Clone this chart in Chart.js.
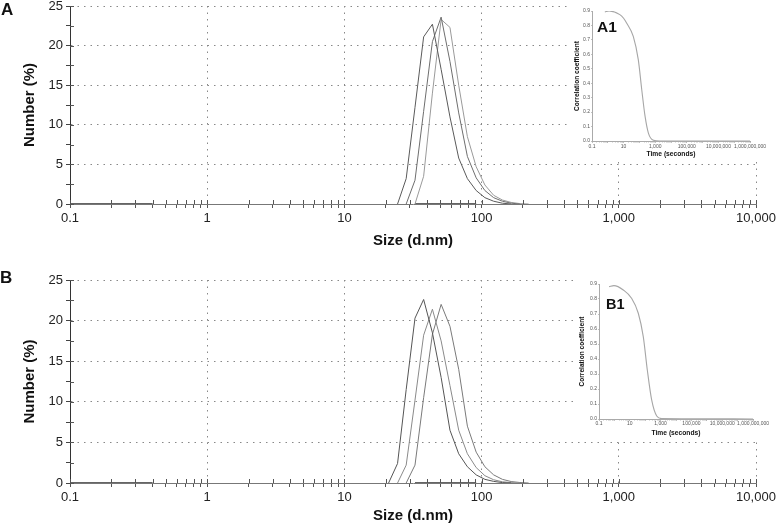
<!DOCTYPE html>
<html>
<head>
<meta charset="utf-8">
<script src="https://cdn.jsdelivr.net/npm/chart.js@4.4.1/dist/chart.umd.min.js"></script>
<style>
  body { margin: 0; background: #fff; font-family: "Liberation Sans", Arial, sans-serif; }
  #page { position: relative; width: 776px; height: 529px; overflow: hidden; background: #fff; }
  .box { position: absolute; }
  .inset { position: absolute; background: #fff; }
  .tag { position: absolute; font-weight: bold; line-height: 1; color: #111; white-space: nowrap; }
</style>
</head>
<body>
<div id="page">
  <div class="box" style="left:0;top:0;width:776px;height:258px"><canvas id="mainA"></canvas></div>
  <div class="box" style="left:0;top:258px;width:776px;height:271px"><canvas id="mainB"></canvas></div>
  <div class="inset" style="left:570px;top:0;width:206px;height:159px"><canvas id="insetA"></canvas></div>
  <div class="inset" style="left:576px;top:262px;width:200px;height:177px"><canvas id="insetB"></canvas></div>
  <div class="tag" style="left:1px;top:1px;font-size:17px">A</div>
  <div class="tag" style="left:0px;top:269px;font-size:17px">B</div>
  <div class="tag" style="left:597px;top:19px;font-size:15.5px">A1</div>
  <div class="tag" style="left:606px;top:297px;font-size:14.5px">B1</div>
</div>
<script>
const _ = null;

// size bins (d.nm)
const sizeNm = [18.2, 21.0, 24.4, 28.2, 32.7, 37.8, 43.8, 50.7, 58.8, 68.1, 78.8, 91.3, 105.7, 122.4, 141.8, 164.2, 190.1, 220.2, 255.0];

// panel A, number (%)
const numberA1 = [_, _, 0, 3.2, 12.2, 21.1, 22.7, 17.0, 11.0, 5.8, 3.2, 1.7, 0.8, 0.35, 0.1, 0, _, _, _];
const numberA2 = [_, _, _, 0, 3.0, 11.7, 20.5, 23.6, 18.0, 11.5, 6.0, 3.3, 1.7, 0.8, 0.35, 0.1, 0, _, _];
const numberA3 = [_, _, _, _, 0, 3.5, 14.0, 23.3, 22.3, 15.0, 8.5, 4.7, 2.4, 1.1, 0.5, 0.2, 0.05, 0, _];

// panel B, number (%)
const numberB1 = [_, 0, 2.4, 11.5, 20.3, 22.6, 18.5, 13.0, 6.5, 3.6, 2.0, 1.0, 0.45, 0.2, 0.05, 0, _, _, _];
const numberB2 = [_, _, 0, 2.2, 10.2, 18.2, 21.4, 17.5, 12.0, 6.5, 3.6, 1.9, 0.9, 0.4, 0.15, 0.05, 0, _, _];
const numberB3 = [_, _, _, 0, 2.2, 10.5, 18.3, 22.0, 19.3, 14.0, 7.0, 3.8, 2.0, 1.0, 0.45, 0.18, 0.06, 0, _];

// darker stretches lying on the baseline
const zeroRunSizes = [0.1, 0.4, _, 32.7, 91.3];

// correlograms (insets)
const corrTimeA = [0.65, 1.2, 5.8, 10, 15.5, 41, 85, 141, 229, 371, 776, 2000, 1e9];
const corrA = [0.893, 0.9, 0.875, 0.85, 0.817, 0.724, 0.563, 0.355, 0.17, 0.055, 0.005, 0, 0];
const corrTimeB = [0.45, 0.93, 3.8, 13, 35.6, 75, 137, 263, 560, 1170, 1e5, 1e9];
const corrB = [0.882, 0.889, 0.86, 0.805, 0.705, 0.549, 0.327, 0.127, 0.02, 0.003, 0.002, 0];

const sizeTickLabels = [0.1, 1, 10, 100, 1000, 10000];
const timeTickLabels = [0.1, 10, 1000, 1e5, 1e7, 1e9];

const FONT = '"Liberation Sans", Arial, sans-serif';
const CLEAR = 'rgba(0,0,0,0)';

function pts(xs, ys) {
  const out = [];
  xs.forEach((x, i) => { if (ys[i] !== null) out.push({x: x, y: ys[i]}); });
  return out;
}

function logTicks(e0, e1) {
  const t = [];
  for (let e = e0; e < e1; e++) {
    for (let m = 1; m <= 9; m++) t.push({value: Number((m * Math.pow(10, e)).toPrecision(6))});
  }
  t.push({value: Math.pow(10, e1)});
  return t;
}

const isDecade = v => Math.abs(Math.log10(v) - Math.round(Math.log10(v))) < 1e-9;
const hasLabel = (list, v) => list.some(l => Math.abs(Math.log10(l) - Math.log10(v)) < 1e-9);
const fmt = v => v < 1 ? '0.1' : Math.round(v).toLocaleString('en-US');

// tick marks that also poke into the plot, like the instrument software draws them
const crossTicks = {
  id: 'crossTicks',
  afterDatasetsDraw(chart) {
    const {ctx, chartArea: a, scales: {x, y}} = chart;
    ctx.save();
    ctx.lineWidth = 1;
    ctx.strokeStyle = '#555';
    ctx.beginPath();
    x.ticks.forEach(t => {
      const px = Math.round(x.getPixelForValue(t.value)) + 0.5;
      ctx.moveTo(px, a.bottom); ctx.lineTo(px, a.bottom - 4);
    });
    y.ticks.forEach(t => {
      const py = Math.round(y.getPixelForValue(t.value)) + 0.5;
      ctx.moveTo(a.left, py); ctx.lineTo(a.left + 4, py);
    });
    ctx.stroke();
    ctx.restore();
  }
};

function sizeChart(id, series, colors, o) {
  const datasets = series.map((vals, i) => ({
    data: pts(sizeNm, vals),
    borderColor: colors[i], borderWidth: 1, pointRadius: 0, tension: 0
  }));
  datasets.push({
    data: zeroRunSizes.map(x => ({x: x === null ? 1 : x, y: x === null ? null : 0})),
    borderColor: '#333', borderWidth: 1.3, pointRadius: 0, spanGaps: false
  });
  new Chart(document.getElementById(id), {
    type: 'line',
    data: {datasets},
    plugins: [crossTicks],
    options: {
      responsive: true, maintainAspectRatio: false, animation: false,
      layout: {padding: {top: o.top, right: 20, bottom: 0, left: 0}},
      plugins: {legend: {display: false}, tooltip: {enabled: false}},
      scales: {
        x: {
          type: 'logarithmic', min: 0.1, max: 10000,
          afterBuildTicks: s => { s.ticks = logTicks(-1, 4); },
          afterFit: s => { s.height = o.xh; s.paddingLeft = 0; s.paddingRight = 0; },
          ticks: {
            autoSkip: false, maxRotation: 0, minRotation: 0, padding: 3,
            color: '#222', font: {family: FONT, size: 13},
            callback: v => hasLabel(sizeTickLabels, v) ? fmt(v) : ''
          },
          grid: {
            color: c => (c.tick && isDecade(c.tick.value) && c.tick.value > 0.11) ? '#888' : CLEAR,
            tickColor: '#555', tickLength: 4, tickWidth: 1, lineWidth: 1
          },
          border: {color: '#777', width: 1, dash: [1.5, 5]},
          title: {display: true, text: 'Size (d.nm)', color: '#111',
            font: {family: FONT, size: 15, weight: 'bold'}, padding: {top: 0, bottom: o.tb}}
        },
        y: {
          min: 0, max: 25,
          afterFit: s => { s.width = 70; s.paddingTop = 0; s.paddingBottom = 0; },
          ticks: {
            stepSize: 2.5, padding: 3, color: '#222', font: {family: FONT, size: 13},
            callback: v => (v % 5 === 0) ? String(v) : ''
          },
          grid: {
            color: c => (c.tick && c.tick.value % 5 === 0 && c.tick.value > 0) ? '#888' : CLEAR,
            tickColor: '#444', tickLength: 4, tickWidth: 1, lineWidth: 1
          },
          border: {color: '#333', width: 1, dash: [1.5, 5]},
          title: {display: true, text: 'Number (%)', color: '#111',
            font: {family: FONT, size: 15, weight: 'bold'}, padding: {top: 21, bottom: 0}}
        }
      }
    }
  });
}

function corrChart(id, xs, ys, o) {
  new Chart(document.getElementById(id), {
    type: 'line',
    data: {datasets: [{
      data: pts(xs, ys), borderColor: '#a6a6a6', borderWidth: 1.1, pointRadius: 0,
      cubicInterpolationMode: 'monotone'
    }]},
    options: {
      responsive: true, maintainAspectRatio: false, animation: false,
      layout: {padding: {top: o.top, right: o.right, bottom: 0, left: 0}},
      plugins: {legend: {display: false}, tooltip: {enabled: false}},
      scales: {
        x: {
          type: 'logarithmic', min: 0.1, max: 1e9,
          afterBuildTicks: s => { s.ticks = logTicks(-1, 9); },
          afterFit: s => { s.height = o.xh; s.paddingLeft = 0; s.paddingRight = 0; },
          ticks: {
            autoSkip: false, maxRotation: 0, minRotation: 0, padding: o.lp,
            color: '#555', font: {family: FONT, size: 5},
            callback: v => hasLabel(timeTickLabels, v) ? fmt(v) : ''
          },
          grid: {drawOnChartArea: false, tickLength: 2, tickWidth: 0.6,
            tickColor: c => (c.tick && isDecade(c.tick.value)) ? '#999' : '#ccc'},
          border: {color: '#aaa', width: 1},
          title: {display: true, text: 'Time (seconds)', color: '#111',
            font: {family: FONT, size: 6.7, weight: 'bold'}, padding: {top: 0, bottom: o.tb}}
        },
        y: {
          min: 0, max: 0.9,
          afterFit: s => { s.width = o.yw; s.paddingTop = 0; s.paddingBottom = 0; },
          ticks: {stepSize: 0.1, padding: 1, color: '#555', font: {family: FONT, size: 5},
            callback: v => v.toFixed(1)},
          grid: {drawOnChartArea: false, tickLength: 1, tickWidth: 0.6, tickColor: '#999'},
          border: {color: '#aaa', width: 1},
          title: {display: true, text: 'Correlation coefficient', color: '#111',
            font: {family: FONT, size: 6.6, weight: 'bold'}, padding: {top: o.yp, bottom: 0}}
        }
      }
    }
  });
}

sizeChart('mainA', [numberA1, numberA2, numberA3], ['#5a5a5a', '#6e6e6e', '#9a9a9a'], {top: 6, xh: 54, tb: 8});
sizeChart('mainB', [numberB1, numberB2, numberB3], ['#555555', '#8a8a8a', '#7a7a7a'], {top: 22, xh: 46, tb: 4});
corrChart('insetA', corrTimeA, corrA, {top: 11, right: 26, xh: 18, yw: 22, lp: 0.5, tb: 1, yp: 3});
corrChart('insetB', corrTimeB, corrB, {top: 22, right: 23, xh: 20, yw: 23, lp: 0, tb: 2, yp: 2});
</script>
</body>
</html>
